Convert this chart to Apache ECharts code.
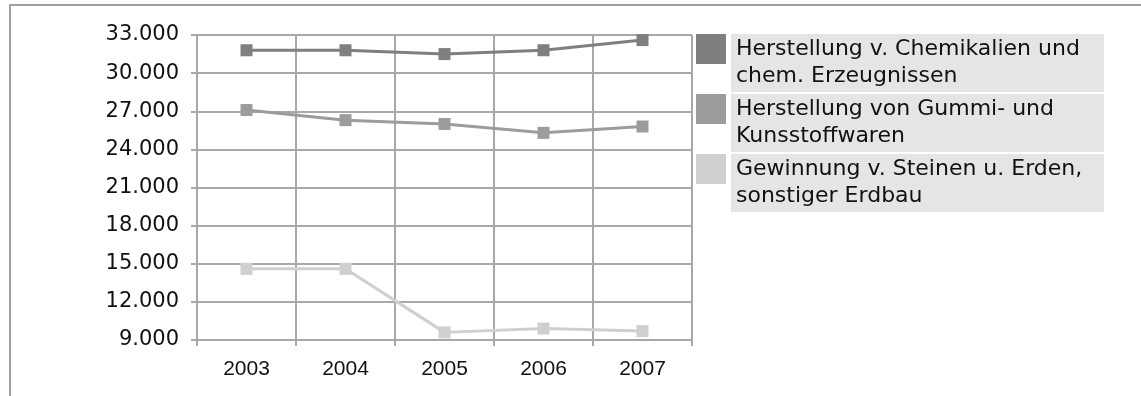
<!DOCTYPE html>
<html>
<head>
<meta charset="utf-8">
<title>Beschäftigte nach Wirtschaftszweigen 2003–2007</title>
<script src="https://cdn.jsdelivr.net/npm/echarts@6/dist/echarts.min.js"></script>
<style>
  html, body { margin: 0; padding: 0; background: #ffffff; }
  #chart { width: 1141px; height: 396px; }
</style>
</head>
<body>
<div id="chart"></div>
<script>
// Years on the category axis
const years = ['2003', '2004', '2005', '2006', '2007'];

// Series names and values
const nameChemie = 'Herstellung v. Chemikalien und chem. Erzeugnissen';
const nameGummi = 'Herstellung von Gummi- und Kunsstoffwaren';
const nameSteine = 'Gewinnung v. Steinen u. Erden, sonstiger Erdbau';

const valuesChemie = [31800, 31800, 31500, 31800, 32600];
const valuesGummi = [27100, 26300, 26000, 25300, 25800];
const valuesSteine = [14600, 14600, 9600, 9900, 9700];

// Two-line legend labels
const legendLines = {};
legendLines[nameChemie] = ['Herstellung v. Chemikalien und', 'chem. Erzeugnissen'];
legendLines[nameGummi] = ['Herstellung von Gummi- und', 'Kunsstoffwaren'];
legendLines[nameSteine] = ['Gewinnung v. Steinen u. Erden,', 'sonstiger Erdbau'];

// Value axis range
const yMin = 9000;
const yMax = 33000;
const yStep = 3000;

const colChemie = '#7f7f7f';
const colGummi = '#9c9c9c';
const colSteine = '#cfcfcf';
const gridColor = '#a8a8a8';
const frameColor = '#a0a0a0';

function thousands(v) {
  return String(v).replace(/\B(?=(\d{3})+(?!\d))/g, '.');
}

function lineSeries(name, data, color) {
  return {
    name: name,
    type: 'line',
    data: data,
    color: color,
    symbol: 'rect',
    symbolSize: 12,
    lineStyle: { color: color, width: 3 },
    itemStyle: { color: color, borderWidth: 0 },
    emphasis: { disabled: true },
    z: 3
  };
}

const chart = echarts.init(document.getElementById('chart'), null, { renderer: 'canvas' });

chart.setOption({
  animation: false,
  backgroundColor: '#ffffff',
  grid: { left: 197, top: 35, width: 495, height: 305 },
  xAxis: {
    type: 'category',
    data: years,
    boundaryGap: true,
    axisLine: { show: true, lineStyle: { color: gridColor, width: 2 } },
    axisTick: { show: true, length: 6, lineStyle: { color: gridColor, width: 2 } },
    splitLine: { show: true, interval: 0, lineStyle: { color: gridColor, width: 2 } },
    axisLabel: {
      margin: 19,
      color: '#111111',
      fontFamily: 'Liberation Sans',
      fontSize: 21
    }
  },
  yAxis: {
    type: 'value',
    min: yMin,
    max: yMax,
    interval: yStep,
    axisLine: { show: true, lineStyle: { color: gridColor, width: 2 } },
    axisTick: { show: true, length: 6, lineStyle: { color: gridColor, width: 2 } },
    splitLine: { show: true, lineStyle: { color: gridColor, width: 2 } },
    axisLabel: {
      margin: 18,
      color: '#111111',
      fontFamily: 'DejaVu Sans',
      fontSize: 21,
      formatter: thousands
    }
  },
  legend: {
    orient: 'vertical',
    left: 696,
    top: 34,
    padding: 0,
    itemGap: 2,
    itemWidth: 30,
    itemHeight: 58,
    // square swatch at the top of each entry; the tiny second square only
    // stretches the icon box to the full entry height
    icon: 'path://M0,0H30V30H0Z M0,57.95H0.05V58H0Z',
    itemStyle: { borderWidth: 0 },
    selectedMode: false,
    data: [nameChemie, nameGummi, nameSteine],
    formatter: function (name) { return legendLines[name].join('\n'); },
    textStyle: {
      color: '#111111',
      fontFamily: 'DejaVu Sans',
      fontSize: 22,
      lineHeight: 27,
      backgroundColor: '#e5e5e5',
      padding: [2, 6, 2, 5],
      width: 362,
      overflow: 'none'
    }
  },
  graphic: [
    {
      // frame: left edge
      type: 'rect',
      shape: { x: 9, y: 4, width: 2, height: 392 },
      style: { fill: frameColor },
      silent: true,
      z: 10
    },
    {
      // frame: top edge
      type: 'rect',
      shape: { x: 9, y: 4, width: 1132, height: 2 },
      style: { fill: frameColor },
      silent: true,
      z: 10
    }
  ],
  series: [
    lineSeries(nameChemie, valuesChemie, colChemie),
    lineSeries(nameGummi, valuesGummi, colGummi),
    lineSeries(nameSteine, valuesSteine, colSteine)
  ]
});
</script>
</body>
</html>
